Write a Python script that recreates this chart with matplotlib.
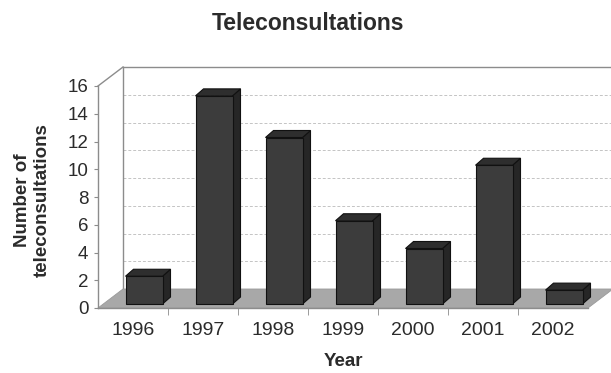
import matplotlib
matplotlib.use("Agg")
import matplotlib.pyplot as plt
from matplotlib.patches import Polygon
from matplotlib.ticker import FixedLocator

plt.rcParams["font.family"] = ["Liberation Sans", "DejaVu Sans"]

years = ["1996", "1997", "1998", "1999", "2000", "2001", "2002"]
counts = [2, 15, 12, 6, 4, 10, 1]
y_ticks = [0, 2, 4, 6, 8, 10, 12, 14, 16]

W, H = 611, 373
fig = plt.figure(figsize=(W / 100, H / 100), dpi=100)
fig.patch.set_facecolor("white")

# front plane of the 3D box, in pixels: x 98..588, y 308 (0) .. 86 (16)
ax = fig.add_axes([98 / W, (H - 308) / H, 490 / W, 222 / H])
ax.set_xlim(-0.5, len(years) - 0.5)
ax.set_ylim(0, 16)
ax.patch.set_alpha(0)

px_x = 70.0           # pixels per category
px_y = 222 / 16.0     # pixels per unit
DX, DY = 25 / px_x, 19 / px_y          # wall depth
bdx, bdy = 8 / px_x, 7 / px_y          # bar depth
bshift, bbase = 11 / px_x, 4 / px_y    # bar front face offset
bw = 37 / px_x

wall = "#8c8c8c"
x0, x1 = -0.5, len(years) - 0.5

# back wall + gridlines
ax.add_patch(Polygon([(x0 + DX, DY), (x1 + DX, DY), (x1 + DX, 16 + DY), (x0 + DX, 16 + DY)],
                     closed=True, fc="white", ec="none", clip_on=False, zorder=0))
for t in y_ticks[1:-1]:
    ax.plot([x0 + DX, x1 + DX], [t + DY, t + DY], color="#c4c4c4", lw=0.7,
            ls=(0, (3, 2)), clip_on=False, zorder=1)
ax.plot([x0 + DX, x1 + DX], [16 + DY, 16 + DY], color=wall, lw=1.0, clip_on=False, zorder=1)
ax.plot([x0 + DX, x0 + DX], [DY, 16 + DY], color=wall, lw=1.0, clip_on=False, zorder=1)
# left wall
ax.plot([x0, x0 + DX], [16, 16 + DY], color=wall, lw=1.0, clip_on=False, zorder=1)

# floor
ax.add_patch(Polygon([(x0, 0), (x1, 0), (x1 + DX, DY), (x0 + DX, DY)],
                     closed=True, fc="#a8a8a8", ec="#9a9a9a", lw=0.6, clip_on=False, zorder=2))

# bars
for i, v in enumerate(counts):
    l = i - bw / 2 + bshift
    r = l + bw
    b = bbase
    t = v + bbase
    front = [(l, b), (r, b), (r, t), (l, t)]
    top = [(l, t), (r, t), (r + bdx, t + bdy), (l + bdx, t + bdy)]
    side = [(r, b), (r + bdx, b + bdy), (r + bdx, t + bdy), (r, t)]
    for pts, c in ((side, "#262626"), (top, "#2e2e2e"), (front, "#3c3c3c")):
        ax.add_patch(Polygon(pts, closed=True, fc=c, ec="#111111", lw=0.8,
                             clip_on=False, zorder=3))

# axes
for s in ("top", "right"):
    ax.spines[s].set_visible(False)
for s in ("left", "bottom"):
    ax.spines[s].set_color(wall)
    ax.spines[s].set_linewidth(1.0)
    ax.spines[s].set_zorder(2.5)

ax.set_yticks(y_ticks)
ax.tick_params(axis="y", length=3, color=wall, pad=4, labelsize=13.5, labelcolor="#2b2b2b")
ax.set_xticks(range(len(years)))
ax.set_xticklabels(years)
ax.tick_params(axis="x", which="major", length=0, pad=10, labelsize=14, labelcolor="#2b2b2b")
ax.xaxis.set_minor_locator(FixedLocator([k + 0.5 for k in range(len(years) - 1)]))
ax.tick_params(axis="x", which="minor", length=5, color=wall, direction="out")

fig.text(308 / W, 1 - 23 / H, "Teleconsultations", ha="center", va="center",
         fontsize=16.5, fontweight="bold", color="#2b2b2b")
fig.text(343 / W, 1 - 362 / H, "Year", ha="center", va="center",
         fontsize=13.5, fontweight="bold", color="#2b2b2b")
fig.text(32 / W, 1 - 200 / H, "Number of\nteleconsultations", ha="center", va="center",
         rotation=90, multialignment="center", linespacing=1.2,
         fontsize=13.5, fontweight="bold", color="#2b2b2b")

fig.savefig("out.png", dpi=100)
